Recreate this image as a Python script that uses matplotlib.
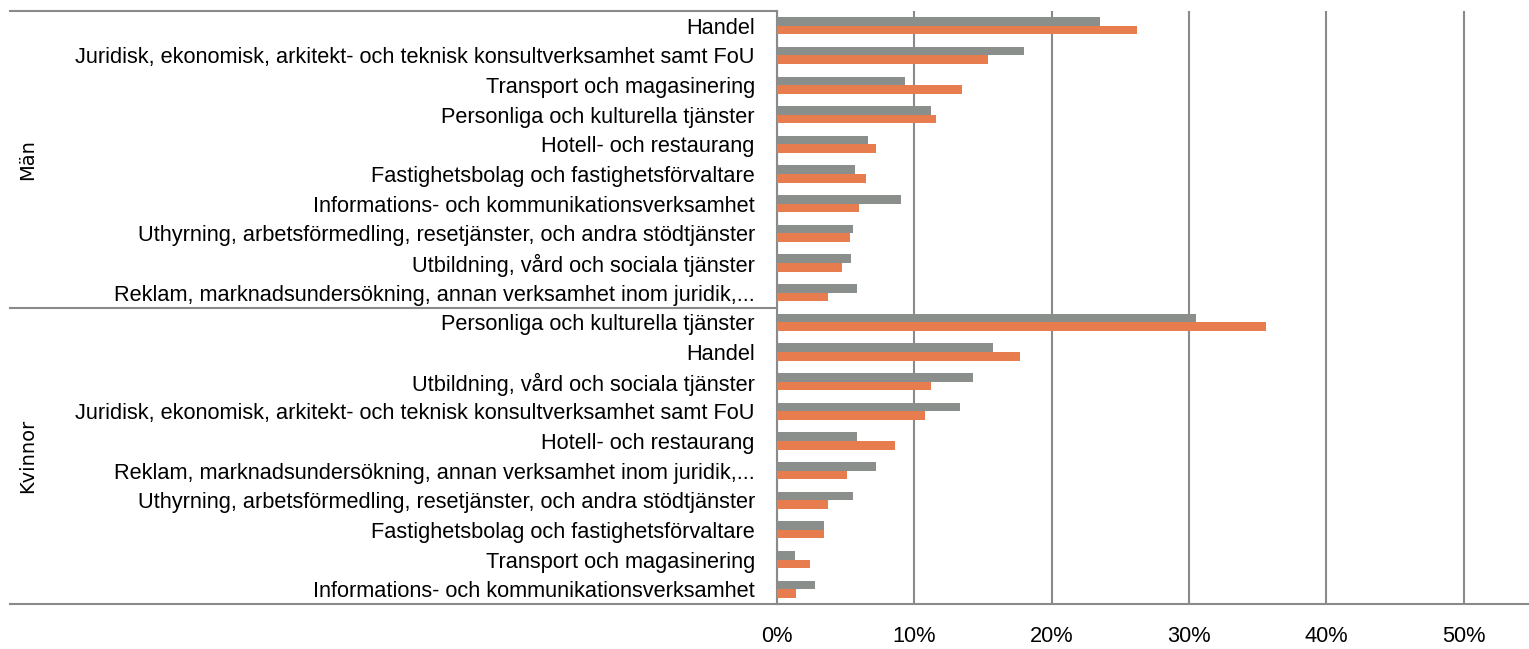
import numpy as np
import matplotlib.pyplot as plt
from matplotlib.lines import Line2D

# Branscher och andelar (%), grå = serie 1, orange = serie 2
man_labels = [
    'Handel',
    'Juridisk, ekonomisk, arkitekt- och teknisk konsultverksamhet samt FoU',
    'Transport och magasinering',
    'Personliga och kulturella tjänster',
    'Hotell- och restaurang',
    'Fastighetsbolag och fastighetsförvaltare',
    'Informations- och kommunikationsverksamhet',
    'Uthyrning, arbetsförmedling, resetjänster, och andra stödtjänster',
    'Utbildning, vård och sociala tjänster',
    'Reklam, marknadsundersökning, annan verksamhet inom juridik,...',
]
man_gray = [23.5, 18.0, 9.3, 11.2, 6.6, 5.7, 9.0, 5.5, 5.4, 5.8]
man_orange = [26.2, 15.4, 13.5, 11.6, 7.2, 6.5, 6.0, 5.3, 4.7, 3.7]

kvinnor_labels = [
    'Personliga och kulturella tjänster',
    'Handel',
    'Utbildning, vård och sociala tjänster',
    'Juridisk, ekonomisk, arkitekt- och teknisk konsultverksamhet samt FoU',
    'Hotell- och restaurang',
    'Reklam, marknadsundersökning, annan verksamhet inom juridik,...',
    'Uthyrning, arbetsförmedling, resetjänster, och andra stödtjänster',
    'Fastighetsbolag och fastighetsförvaltare',
    'Transport och magasinering',
    'Informations- och kommunikationsverksamhet',
]
kvinnor_gray = [30.5, 15.7, 14.3, 13.3, 5.8, 7.2, 5.5, 3.4, 1.3, 2.8]
kvinnor_orange = [35.6, 17.7, 11.2, 10.8, 8.6, 5.1, 3.7, 3.4, 2.4, 1.4]

groups = ['Män', 'Kvinnor']
x_ticks = [0, 10, 20, 30, 40, 50]

labels = man_labels + kvinnor_labels
gray = np.array(man_gray + kvinnor_gray)
orange = np.array(man_orange + kvinnor_orange)

GRAY = '#8B8F8B'
ORANGE = '#E77C4F'
LINE = '#8A8A8A'

plt.rcParams['font.family'] = ['Liberation Sans', 'DejaVu Sans']

W, H = 1529, 649
fig = plt.figure(figsize=(W / 100, H / 100), dpi=100)
left, right, top, bottom = 777, 1529, 11, 604
ax = fig.add_axes([left / W, 1 - bottom / H, (right - left) / W, (bottom - top) / H])

y = np.arange(len(labels))
bh = 0.29
ax.barh(y - bh / 2, gray, height=bh, color=GRAY, zorder=3)
ax.barh(y + bh / 2, orange, height=bh, color=ORANGE, zorder=3)

ax.set_ylim(len(labels) - 0.5, -0.5)
ax.set_xlim(0, (right - left) / 13.73)
ax.set_yticks(y)
ax.set_yticklabels(labels, fontsize=15.7)
ax.tick_params(axis='y', length=0, pad=16)
ax.set_xticks(x_ticks)
ax.set_xticklabels([f'{v}%' for v in x_ticks], fontsize=15.7)
ax.tick_params(axis='x', length=0, pad=16)

ax.grid(axis='x', color=LINE, linewidth=1.5, zorder=0)
for s in ['top', 'right']:
    ax.spines[s].set_visible(False)
for s in ['left', 'bottom']:
    ax.spines[s].set_color(LINE)
    ax.spines[s].set_linewidth(1.5)

# Linjer för kategori-gruppering till vänster
for yy in [top, (top + bottom) / 2, bottom]:
    fig.add_artist(Line2D([10 / W, left / W], [1 - yy / H, 1 - yy / H],
                          color=LINE, linewidth=1.5))

for i, g in enumerate(groups):
    yc = top + (i + 0.5) * (bottom - top) / 2
    fig.text(28 / W, 1 - yc / H, g, rotation=90, ha='center', va='center',
             fontsize=14, family='DejaVu Sans')

fig.savefig('out.png', dpi=100)
